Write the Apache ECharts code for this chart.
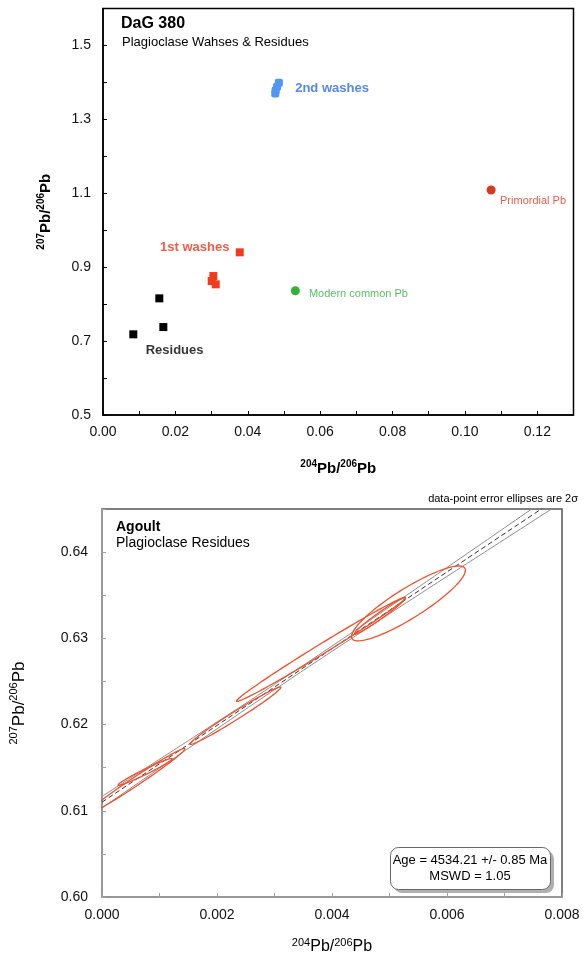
<!DOCTYPE html>
<html>
<head>
<meta charset="utf-8">
<script src="https://cdn.jsdelivr.net/npm/echarts@6/dist/echarts.min.js"></script>
<style>
html,body{margin:0;padding:0;background:#fff;}
#chart{width:585px;height:956px;}
</style>
</head>
<body>
<div id="chart"></div>
<script>
// ---------- Top chart data (DaG 380) ----------
const residuesX = [0.00837, 0.01556, 0.01667];
const residuesY = [0.7183, 0.8157, 0.7380];
const wash1X = [0.03049, 0.03004, 0.03115, 0.03778];
const wash1Y = [0.8760, 0.8625, 0.8536, 0.9402];
const wash2X = [0.0476, 0.0477, 0.0481, 0.0486];
const wash2Y = [1.370, 1.378, 1.388, 1.399];
const modernPb = [0.05315, 0.8363];
const primordialPb = [0.10724, 1.1088];
const topLabelNames = ['2nd washes', '1st washes', 'Residues', 'Modern common Pb', 'Primordial Pb'];
const topLabelX = [0.0531, 0.01575, 0.0118, 0.0569, 0.1097];
const topLabelY = [1.385, 0.9526, 0.6758, 0.8271, 1.079];
const topXTicks = ['0.00', '0.02', '0.04', '0.06', '0.08', '0.10', '0.12'];
const topYTicks = ['0.5', '0.7', '0.9', '1.1', '1.3', '1.5'];

// ---------- Bottom chart data (Agoult) ----------
// error ellipses: centre, 2-sigma half widths, correlation
const ellCx  = [0.00533, 0.00483, 0.00381, 0.00232, 0.00058, 0.00075];
const ellCy  = [0.63405, 0.63259, 0.62872, 0.62102, 0.61338, 0.61451];
const ellSx  = [0.00099, 0.00044, 0.00147, 0.00079, 0.00086, 0.00047];
const ellSy  = [0.00434, 0.00211, 0.00604, 0.00333, 0.00384, 0.00156];
const ellRho = [0.885, 0.976, 0.9937, 0.986, 0.988, 0.976];
// regression line and error envelope
const fitX = [0, 0.008];
const fitY = [0.611, 0.6466];
const envX = [0, 0.001, 0.002, 0.003, 0.004, 0.005, 0.006, 0.007, 0.008];
const envUpper = [0.61167, 0.61597, 0.62029, 0.62466, 0.62911, 0.63364, 0.63822, 0.64282, 0.64742];
const envLower = [0.61033, 0.61493, 0.61951, 0.62404, 0.62849, 0.63286, 0.63718, 0.64148, 0.64578];
const botXTicks = ['0.000', '0.002', '0.004', '0.006', '0.008'];
const botYTicks = ['0.60', '0.61', '0.62', '0.63', '0.64'];
const ageText = ['Age = 4534.21 +/- 0.85 Ma', 'MSWD = 1.05'];

const FONT = '"Liberation Sans", Arial, sans-serif';
const zip = (xs, ys) => xs.map((x, i) => [x, ys[i]]);

function supName(sizeBase, sizeSup, bold, lh) {
  const w = bold ? 'bold' : 'normal';
  return {
    fontFamily: FONT, color: '#000',
    rich: {
      s: {fontSize: sizeSup, fontWeight: w, fontFamily: FONT, color: '#000', verticalAlign: 'top', lineHeight: Math.round(sizeSup * 1.2)},
      b: {fontSize: sizeBase, fontWeight: w, fontFamily: FONT, color: '#000', verticalAlign: 'middle', lineHeight: lh}
    }
  };
}

// show only the tick values listed (compared on integer multiples of the tick step)
function labelFmt(list, scale, dec) {
  const wanted = list.map(s => Math.round(parseFloat(s) * scale));
  return function (v) {
    const k = Math.round(v * scale);
    if (Math.abs(v * scale - k) > 1e-6) return '';
    return wanted.indexOf(k) >= 0 ? v.toFixed(dec) : '';
  };
}

const chart = echarts.init(document.getElementById('chart'), null, {renderer: 'canvas'});

const ellipseData = ellCx.map((c, i) => [c, ellCy[i], ellSx[i], ellSy[i], ellRho[i]]);

const option = {
  animation: false,
  backgroundColor: '#fff',
  textStyle: {fontFamily: FONT},
  grid: [
    {left: 103, right: 11.5, top: 8.5, bottom: 541, show: true, borderColor: '#000', borderWidth: 1.5, backgroundColor: 'transparent'},
    {left: 97, right: 23, top: 509, bottom: 49, show: true, borderColor: '#555', borderWidth: 1.5, backgroundColor: 'transparent'}
  ],
  xAxis: [
    {
      gridIndex: 0, type: 'value', min: 0, max: 0.13, interval: 0.01,
      axisLine: {show: true, lineStyle: {color: '#000', width: 1.5}},
      axisTick: {show: true, inside: true, length: 4, lineStyle: {color: '#000'}},
      splitLine: {show: false},
      axisLabel: {formatter: labelFmt(topXTicks, 100, 2), fontSize: 14, color: '#111', fontFamily: FONT, margin: 10, showMaxLabel: true},
      name: '{s|204}{b|Pb/}{s|206}{b|Pb}', nameLocation: 'middle', nameGap: 44,
      nameTextStyle: supName(15, 10, true, 20)
    },
    {
      gridIndex: 1, type: 'value', min: 0, max: 0.008, interval: 0.001,
      axisLine: {show: true, lineStyle: {color: '#a0a0a0', width: 1.5}},
      axisTick: {show: true, inside: true, length: 4, lineStyle: {color: '#a0a0a0'}},
      splitLine: {show: false},
      axisLabel: {formatter: labelFmt(botXTicks, 1000, 3), fontSize: 14, color: '#111', fontFamily: FONT, margin: 11, showMaxLabel: true},
      name: '{s|204}{b|Pb/}{s|206}{b|Pb}', nameLocation: 'middle', nameGap: 40,
      nameTextStyle: supName(16, 11, false, 20)
    }
  ],
  yAxis: [
    {
      gridIndex: 0, type: 'value', min: 0.5, max: 1.6, interval: 0.1,
      axisLine: {show: true, lineStyle: {color: '#000', width: 1.5}},
      axisTick: {show: true, inside: true, length: 4, lineStyle: {color: '#000'}},
      splitLine: {show: false},
      axisLabel: {formatter: labelFmt(topYTicks, 10, 1), fontSize: 14, color: '#111', fontFamily: FONT, margin: 12},
      name: '{s|207}{b|Pb/}{s|206}{b|Pb}', nameLocation: 'middle', nameGap: 47, nameRotate: 90,
      nameTextStyle: supName(15, 10, true, 20)
    },
    {
      gridIndex: 1, type: 'value', min: 0.6, max: 0.645, interval: 0.005,
      axisLine: {show: true, lineStyle: {color: '#a0a0a0', width: 1.5}},
      axisTick: {show: true, inside: true, length: 4, lineStyle: {color: '#a0a0a0'}},
      splitLine: {show: false},
      axisLabel: {formatter: labelFmt(botYTicks, 100, 2), fontSize: 14, color: '#111', fontFamily: FONT, margin: 14},
      name: '{s|207}{b|Pb/}{s|206}{b|Pb}', nameLocation: 'middle', nameGap: 72, nameRotate: 90,
      nameTextStyle: supName(17, 11, false, 22)
    }
  ],
  series: [
    {type: 'scatter', xAxisIndex: 0, yAxisIndex: 0, symbol: 'rect', symbolSize: 8,
     itemStyle: {color: '#000', opacity: 1}, data: zip(residuesX, residuesY), z: 3},
    {type: 'scatter', xAxisIndex: 0, yAxisIndex: 0, symbol: 'rect', symbolSize: 8,
     itemStyle: {color: '#f03b1d', opacity: 1}, data: zip(wash1X, wash1Y), z: 3},
    {type: 'scatter', xAxisIndex: 0, yAxisIndex: 0, symbol: 'roundRect', symbolSize: 8,
     itemStyle: {color: '#5196f4', opacity: 1}, data: zip(wash2X, wash2Y), z: 3},
    {type: 'scatter', xAxisIndex: 0, yAxisIndex: 0, symbol: 'circle', symbolSize: 9,
     itemStyle: {color: '#33b23a', opacity: 1}, data: [modernPb], z: 3},
    {type: 'scatter', xAxisIndex: 0, yAxisIndex: 0, symbol: 'circle', symbolSize: 9,
     itemStyle: {color: '#d9381c', opacity: 1}, data: [primordialPb], z: 3},
    {
      type: 'scatter', xAxisIndex: 0, yAxisIndex: 0, symbolSize: 0, silent: true, z: 4,
      data: topLabelNames.map((n, i) => {
        const styles = [
          {color: '#2a66f4', fontWeight: 'bold', fontSize: 13},
          {color: '#f0321a', fontWeight: 'bold', fontSize: 13},
          {color: '#000', fontWeight: 'bold', fontSize: 13},
          {color: '#30b040', fontWeight: 'normal', fontSize: 11},
          {color: '#e0361c', fontWeight: 'normal', fontSize: 11}
        ];
        return {
          value: [topLabelX[i], topLabelY[i]],
          label: Object.assign({show: true, position: 'right', distance: 0, formatter: n, fontFamily: FONT}, styles[i])
        };
      })
    },
    // envelope
    {type: 'line', xAxisIndex: 1, yAxisIndex: 1, data: zip(envX, envUpper), smooth: true, symbol: 'none',
     lineStyle: {color: '#8c8c8c', width: 1}, clip: true, z: 2, silent: true},
    {type: 'line', xAxisIndex: 1, yAxisIndex: 1, data: zip(envX, envLower), smooth: true, symbol: 'none',
     lineStyle: {color: '#8c8c8c', width: 1}, clip: true, z: 2, silent: true},
    {type: 'line', xAxisIndex: 1, yAxisIndex: 1, data: zip(fitX, fitY), symbol: 'none',
     lineStyle: {color: '#333', width: 1, type: [5, 3]}, clip: true, z: 2, silent: true},
    {
      type: 'custom', xAxisIndex: 1, yAxisIndex: 1, clip: true, z: 3, silent: true,
      data: ellipseData,
      encode: {x: 0, y: 1},
      renderItem: function (params, api) {
        const cx = api.value(0), cy = api.value(1), sx = api.value(2), sy = api.value(3), r = api.value(4);
        const q = Math.sqrt(1 - r * r);
        const pts = [];
        const N = 120;
        for (let k = 0; k < N; k++) {
          const t = 2 * Math.PI * k / N;
          pts.push(api.coord([cx + sx * Math.cos(t), cy + sy * (r * Math.cos(t) + q * Math.sin(t))]));
        }
        return {
          type: 'polygon',
          shape: {points: pts},
          style: {fill: 'none', stroke: '#f24f2b', lineWidth: 1.3}
        };
      }
    }
  ],
  graphic: [
    {type: 'text', left: 121, top: 16, style: {text: 'DaG 380', font: 'bold 16px ' + FONT, fill: '#000'}},
    {type: 'text', left: 122, top: 36, style: {text: 'Plagioclase Wahses & Residues', font: '13px ' + FONT, fill: '#000'}},
    {type: 'text', left: 116, top: 520, style: {text: 'Agoult', font: 'bold 14px ' + FONT, fill: '#000'}},
    {type: 'text', left: 116, top: 536, style: {text: 'Plagioclase Residues', font: '14px ' + FONT, fill: '#000'}},
    {type: 'text', right: 7, top: 493, style: {text: 'data-point error ellipses are 2\u03c3', font: '11px ' + FONT, fill: '#000'}},
    {type: 'rect', left: 394, top: 851, z: 9,
     shape: {width: 160, height: 42, r: 8},
     style: {fill: '#b0b0b0', stroke: 'none'}},
    {type: 'rect', left: 390, top: 847, z: 10,
     shape: {width: 160, height: 42, r: 8},
     style: {fill: '#fff', stroke: '#666', lineWidth: 1}},
    {type: 'text', x: 470, y: 854, z: 11, style: {text: ageText[0], font: '13px ' + FONT, fill: '#000', textAlign: 'center'}},
    {type: 'text', x: 470, y: 870, z: 11, style: {text: ageText[1], font: '13px ' + FONT, fill: '#000', textAlign: 'center'}}
  ]
};
chart.setOption(option);
</script>
</body>
</html>
